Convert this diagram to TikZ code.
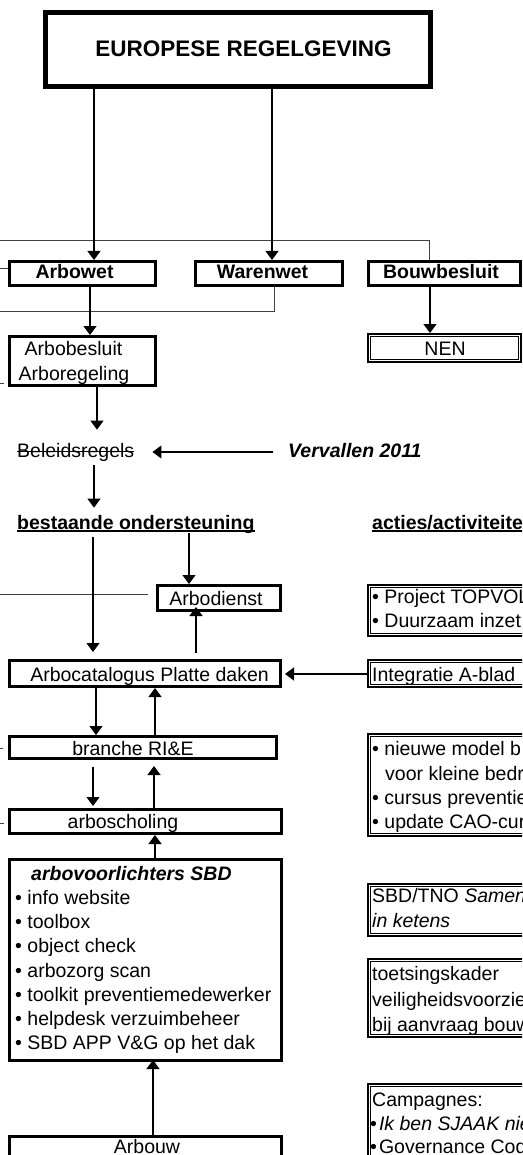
\documentclass[tikz,border=0pt]{standalone}
\usepackage{fontspec}
\setmainfont{Liberation Sans}
\usetikzlibrary{arrows.meta}
\tikzset{
  bxs/.style={draw, rectangle, inner sep=0pt},
  tx/.style={inner sep=0pt, font=\fontsize{19.5}{24}\selectfont},
  txb/.style={inner sep=0pt, font=\fontsize{19.5}{24}\selectfont\bfseries},
  txbi/.style={inner sep=0pt, font=\fontsize{19.5}{24}\selectfont\bfseries\itshape},
  arr/.style={line width=1.2pt, -{Triangle[width=13pt,length=9pt]}},
  ln/.style={line width=1pt, black!75},
  rule/.style={line width=1.5pt}
}
% style, line width, name, left, top, right, bottom
\newcommand\bx[7]{\node[#1, line width=#2pt, minimum width={#6-#4-#2}, minimum height={#7-#5-#2}] (#3) at ({(#4+#6)/2},{(#5+#7)/2}) {};}
% node, inset, line width
\newcommand\inr[3]{\draw[line width=#3pt] ([shift={(#2,#2)}]#1.north west) rectangle ([shift={(-#2,-#2)}]#1.south east);}
\begin{document}
\begin{tikzpicture}[x=1pt,y=-1pt]
\useasboundingbox (0,0) rectangle (522,1155);
\fill[white] (0,0) rectangle (522,1155);
\clip (0,0) rectangle (522,1155);

% boxes
\bx{bxs}{2.7}{eu}{43}{10}{433}{89} \inr{eu}{4.2}{1.6}
\bx{bxs}{3}{arbowet}{8}{260}{157}{287}
\bx{bxs}{3}{warenwet}{194}{260}{344}{287}
\bx{bxs}{3}{bouw}{367}{260}{522}{287}
\bx{bxs}{2}{nen}{367}{333}{522}{363} \inr{nen}{3.6}{1.1}
\bx{bxs}{3}{arbobes}{8}{335}{157}{387}
\bx{bxs}{3}{arbod}{156}{584}{282}{612}
\bx{bxs}{3}{arbocat}{8}{659}{282}{688}
\bx{bxs}{3}{branche}{8}{735}{278}{760}
\bx{bxs}{3}{arbosch}{8}{808}{283}{835}
\bx{bxs}{3}{arbovl}{8}{858}{283}{1062}
\bx{bxs}{3}{arbouw}{8}{1135}{283}{1210}
\bx{bxs}{2.2}{topvol}{367}{584}{560}{637} \inr{topvol}{3.8}{1}
\bx{bxs}{2.2}{integ}{367}{659}{560}{688} \inr{integ}{3.8}{1}
\bx{bxs}{2.2}{nieuw}{367}{733}{560}{837} \inr{nieuw}{3.8}{1}
\bx{bxs}{2.2}{sbdtno}{367}{883}{560}{937} \inr{sbdtno}{3.8}{1}
\bx{bxs}{2.2}{toets}{367}{958}{560}{1038} \inr{toets}{3.8}{1}
\bx{bxs}{2.2}{camp}{367}{1083}{560}{1210} \inr{camp}{3.8}{1}

% texts
\node[inner sep=0pt, font=\fontsize{22.5}{27}\selectfont\bfseries, anchor=base] (teu) at (243.5,57) {EUROPESE REGELGEVING};
\node[txb, anchor=base] (tarbowet) at (74.5,279) {Arbowet};
\node[txb, anchor=base] (twarenwet) at (262.5,279) {Warenwet};
\node[txb, anchor=base] (tbouw) at (441,279) {Bouwbesluit};
\node[tx, anchor=base] (tnen) at (445,355) {NEN};
\node[tx, anchor=base] (tarbobes) at (73.5,355) {Arbobesluit};
\node[tx, anchor=base] (tarboreg) at (74,380) {Arboregeling};
\node[tx, anchor=base west] (tbel) at (17,457) {Beleidsregels};
\draw[line width=1pt] ([yshift=5.3pt]tbel.base west) -- ([yshift=5.3pt]tbel.base east);
\node[txbi, anchor=base west] (tvv) at (288,457) {Vervallen 2011};
\node[txb, anchor=base west] (tbo) at (17,529) {bestaande ondersteuning};
\draw[rule] ([yshift=-2pt]tbo.base west) -- ([yshift=-2pt]tbo.base east);
\node[txb, anchor=base west] (tacties) at (372,529) {acties/activiteite};
\draw[rule] ([yshift=-2pt]tacties.base west) -- ([yshift=-2pt]tacties.base east);
\node[tx, anchor=base] (tarbod) at (216,605) {Arbodienst};
\node[tx, anchor=base west] (ttop1) at (372,603) {• Project TOPVOL};
\node[tx, anchor=base west] (ttop2) at (372,627) {• Duurzaam inzet};
\node[tx, anchor=base] (tarbocat) at (149.5,681) {Arbocatalogus Platte daken};
\node[tx, anchor=base west] (tinteg) at (372,681) {Integratie A-blad};
\node[tx, anchor=base] (tbranche) at (133,755) {branche RI\&E};
\node[tx, anchor=base west] (tn1) at (372,755) {• nieuwe model b};
\node[tx, anchor=base west] (tn2) at (385,780) {voor kleine bedr};
\node[tx, anchor=base west] (tn3) at (372,804) {• cursus preventie};
\node[tx, anchor=base west] (tn4) at (372,828) {• update CAO-cur};
\node[tx, anchor=base] (tarbosch) at (123,828) {arboscholing};
\node[txbi, anchor=base west] (tvl0) at (31,880) {arbovoorlichters SBD};
\node[tx, anchor=base west] (tvl1) at (15,904) {• info website};
\node[tx, anchor=base west] (tvl2) at (15,928) {• toolbox};
\node[tx, anchor=base west] (tvl3) at (15,952) {• object check};
\node[tx, anchor=base west] (tvl4) at (15,977) {• arbozorg scan};
\node[tx, anchor=base west] (tvl5) at (15,1001) {• toolkit preventiemedewerker};
\node[tx, anchor=base west] (tvl6) at (15,1025) {• helpdesk verzuimbeheer};
\node[tx, anchor=base west] (tvl7) at (15,1049) {• SBD APP V\&G op het dak};
\node[tx, anchor=base west] (ts1) at (372,902) {SBD/TNO \textit{Samen}};
\node[tx, anchor=base west] (ts2) at (372,927) {\textit{in ketens}};
\node[tx, anchor=base west] (tt1) at (372,980) {toetsingskader};
\node[tx, anchor=base west] (tt2) at (372,1006) {veiligheidsvoorzie};
\node[tx, anchor=base west] (tt3) at (372,1031) {bij aanvraag bouw};
\node[tx, anchor=base west] (tc1) at (372,1106) {Campagnes:};
\node[tx, anchor=base west] (tc2) at (370,1130) {•\kern2pt\textit{Ik ben SJAAK nie}};
\node[tx, anchor=base west] (tc3) at (370,1153) {•\kern2pt Governance Code};
\node[tx, anchor=base] (tarbouw) at (147,1153) {Arbouw};

% free ends at the left edge
\coordinate (e1) at (0,241);
\coordinate (e2) at (0,269);
\coordinate (e3) at (0,311);
\coordinate (e4) at (0,383);
\coordinate (e5) at (0,594);
\coordinate (e6) at (0,748);
\coordinate (e7) at (0,823);

% plain lines
\draw[ln] (e1) -| (bouw.north -| 429,0);
\draw[ln] (e2) -- (arbowet.west |- e2);
\draw[ln] (warenwet.south -| 274,0) |- (e3);
\draw[ln] (e4) -- ([xshift=-4pt]arbobes.west |- e4);
\draw[ln] (e5) -- ([xshift=-8pt]arbod.west |- e5);
\draw[ln] (e6) -- ([xshift=-5pt]branche.west |- e6);
\draw[ln] (e7) -- ([xshift=-4pt]arbosch.west |- e7);

% arrows
\draw[arr] (eu.south -| 94,0) -- (arbowet.north -| 94,0);
\draw[arr] (eu.south -| 272,0) -- (warenwet.north -| 272,0);
\draw[arr] (bouw.south -| 430,0) -- (nen.north -| 430,0);
\draw[arr] (arbowet.south -| 90,0) -- (arbobes.north -| 90,0);
\draw[arr, shorten >=13pt] (arbobes.south -| 97,0) -- (tbel.north -| 97,0);
\draw[arr, shorten <=15pt, shorten >=18pt] (tvv.west |- 0,452) -- (tbel.east |- 0,452);
\draw[arr, shorten <=4pt, shorten >=7pt] (tbel.south -| 94,0) -- (tbo.north -| 94,0);
\draw[arr, shorten <=4pt, shorten >=7pt] (tbo.south -| 93,0) -- (arbocat.north -| 93,0);
\draw[arr] (tbo.south -| 189,0) -- (arbod.north -| 189,0);
\draw[arr, shorten <=6pt, shorten >=-5pt] (arbocat.north -| 196,0) -- (arbod.south -| 196,0);
\draw[arr, shorten >=3pt] (integ.west |- 0,674) -- (arbocat.east |- 0,674);
\draw[arr] (arbocat.south -| 96,0) -- (branche.north -| 96,0);
\draw[arr] (branche.north -| 155,0) -- (arbocat.south -| 155,0);
\draw[arr, shorten <=7pt, shorten >=2pt] (branche.south -| 93,0) -- (arbosch.north -| 93,0);
\draw[arr, shorten >=6pt] (arbosch.north -| 154,0) -- (branche.south -| 154,0);
\draw[arr] (arbovl.north -| 155,0) -- (arbosch.south -| 155,0);
\draw[arr, shorten >=-2pt] (arbouw.north -| 153,0) -- (arbovl.south -| 153,0);
\end{tikzpicture}
\end{document}
